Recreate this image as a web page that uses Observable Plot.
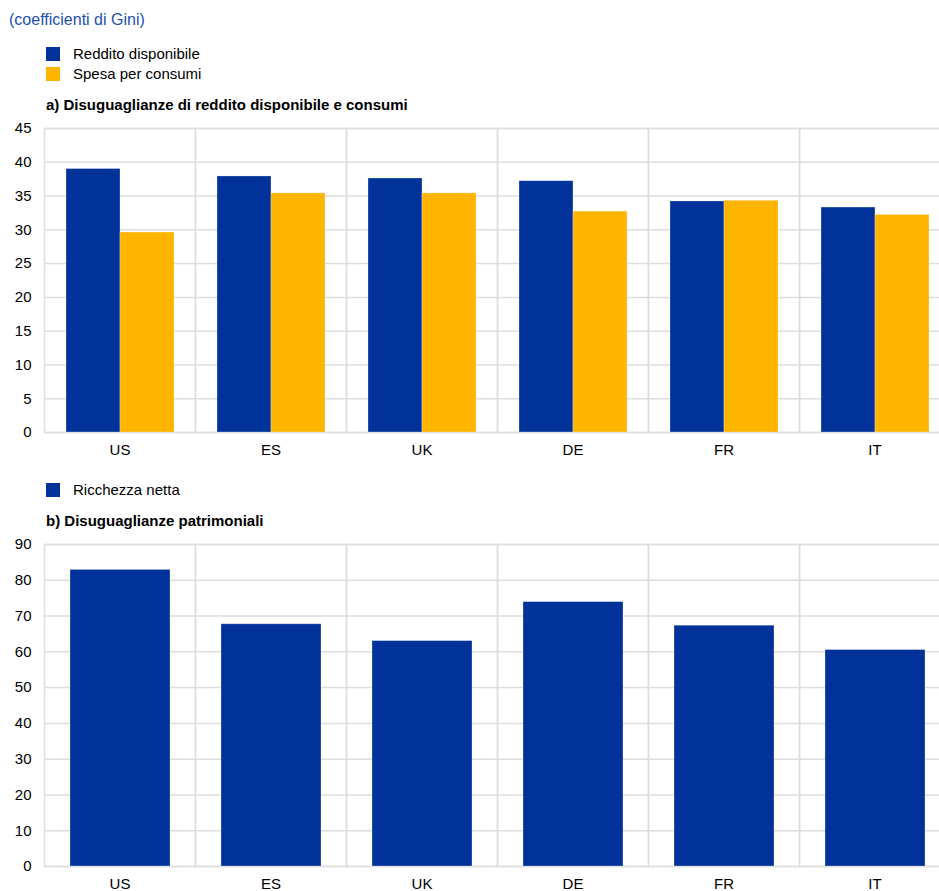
<!DOCTYPE html>
<html>
<head>
<meta charset="utf-8">
<script src="https://cdn.jsdelivr.net/npm/d3@7"></script>
<script src="https://cdn.jsdelivr.net/npm/@observablehq/plot@0.6"></script>
<style>
  html, body { margin: 0; padding: 0; overflow: hidden; background: #fff; width: 939px; height: 891px; }
  body { font-family: "Liberation Sans", Arial, sans-serif; font-size: 15px; color: #000; position: relative; }
  .abs { position: absolute; white-space: nowrap; line-height: 18px; }
  .sw { position: absolute; width: 14px; height: 14px; }
  .title { font-weight: bold; }
  #subtitle { color: #2450b0; font-size: 16px; }
  svg { overflow: visible; max-width: none !important; height: auto; }
  #chartA, #chartB { width: 950px; }
</style>
</head>
<body>
<div id="subtitle" class="abs" style="left:9px; top:11px;">(coefficienti di Gini)</div>
<div id="legA"></div>
<div class="abs title" style="left:46px; top:96px;">a) Disuguaglianze di reddito disponibile e consumi</div>
<div id="chartA" style="position:absolute; left:0; top:115px;"></div>
<div id="legB"></div>
<div class="abs title" style="left:46px; top:512px;">b) Disuguaglianze patrimoniali</div>
<div id="chartB" style="position:absolute; left:0; top:531px;"></div>
<script>
// ---- data ----
const countries = ["US", "ES", "UK", "DE", "FR", "IT"];
const seriesA = ["Reddito disponibile", "Spesa per consumi"];
const redditoDisponibile = [39.0, 37.9, 37.6, 37.2, 34.2, 33.3];
const spesaConsumi = [29.6, 35.4, 35.4, 32.7, 34.3, 32.2];
const seriesB = ["Ricchezza netta"];
const ricchezzaNetta = [82.9, 67.7, 63.0, 73.9, 67.3, 60.5];
const ticksA = [0, 5, 10, 15, 20, 25, 30, 35, 40, 45];
const ticksB = [0, 10, 20, 30, 40, 50, 60, 70, 80, 90];

const blue = "#003299", yellow = "#FFB400", gridColor = "#dedede";

// legends
function legend(container, items, colors, top) {
  const el = document.getElementById(container);
  items.forEach((s, i) => {
    const sw = document.createElement("div");
    sw.className = "sw";
    sw.style.left = "46px";
    sw.style.top = (top + i * 20.5) + "px";
    sw.style.background = colors[i];
    el.appendChild(sw);
    const t = document.createElement("div");
    t.className = "abs";
    t.style.left = "73px";
    t.style.top = (top - 2 + i * 20.5) + "px";
    t.textContent = s;
    el.appendChild(t);
  });
}
legend("legA", seriesA, [blue, yellow], 46.5);
legend("legB", seriesB, [blue], 483);

const dataA = [];
countries.forEach((c, i) => {
  dataA.push({country: c, series: seriesA[0], value: redditoDisponibile[i]});
  dataA.push({country: c, series: seriesA[1], value: spesaConsumi[i]});
});
const dataB = countries.map((c, i) => ({country: c, series: seriesB[0], value: ricchezzaNetta[i]}));

function chart(data, series, colors, ticks, maxY, plotH, paddingOuter) {
  return Plot.plot({
    width: 950,
    height: 13 + plotH + 30,
    marginLeft: 44,
    marginRight: 0,
    marginTop: 13,
    marginBottom: 30,
    style: {fontFamily: "Liberation Sans, Arial, sans-serif", fontSize: "15px", color: "#000", background: "transparent", overflow: "visible", maxWidth: "none"},
    facet: {data, x: "country"},
    fx: {domain: countries, padding: 0, axis: "bottom", label: null, tickSize: 0, tickPadding: 12},
    x: {domain: series, axis: null, paddingInner: 0, paddingOuter},
    y: {domain: [0, maxY], ticks, tickSize: 0, tickPadding: 13, label: null, tickFormat: d => String(d)},
    color: {domain: series, range: colors},
    marks: [
      Plot.ruleY(ticks, {y: d => d, stroke: gridColor, strokeWidth: 1.5}),
      Plot.frame({stroke: gridColor, strokeWidth: 1.5}),
      Plot.barY(data, {x: "series", y: "value", fill: "series", inset: 0, stroke: "#ffffff", strokeOpacity: 0.35, strokeWidth: 0.8})
    ]
  });
}

document.getElementById("chartA").appendChild(
  chart(dataA, seriesA, [blue, yellow], ticksA, 45, 304, 0.39)
);
document.getElementById("chartB").appendChild(
  chart(dataB, seriesB, [blue], ticksB, 90, 322, 0.25)
);
</script>
</body>
</html>
